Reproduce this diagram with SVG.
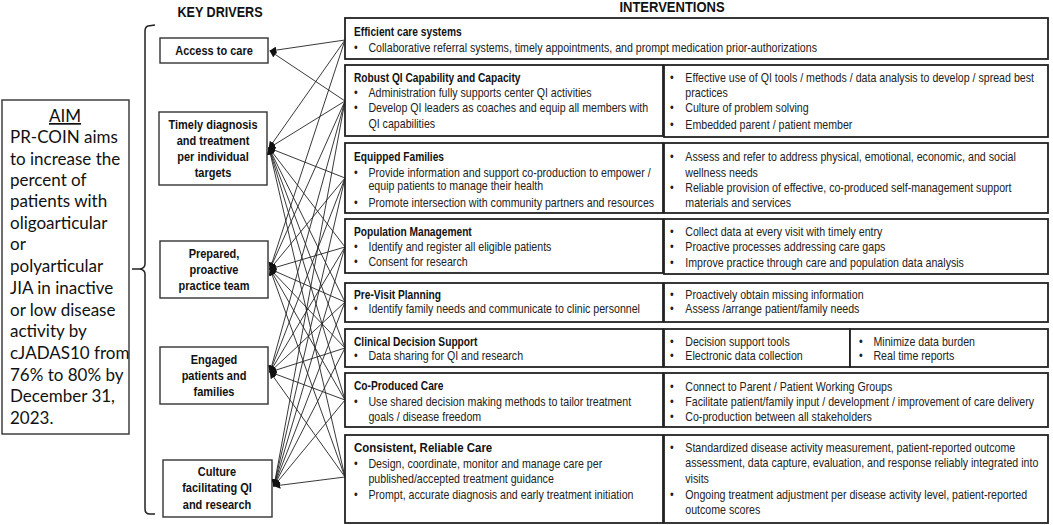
<svg xmlns="http://www.w3.org/2000/svg" width="1053" height="525" viewBox="0 0 1053 525">
<style>
.bg{fill:#fff}
.box{fill:#fff;stroke:#333;stroke-width:1.4}
.ibox{fill:#fff;stroke:#222;stroke-width:1.8}
.h{font-family:"Liberation Sans",Arial,sans-serif;font-weight:bold;font-size:14px;fill:#111;text-anchor:middle}
.d{font-family:"Liberation Sans",Arial,sans-serif;font-weight:bold;font-size:12.5px;fill:#111;text-anchor:middle}
.ti{font-family:"Liberation Sans",Arial,sans-serif;font-weight:bold;font-size:12px;fill:#111}
.t{font-family:"Liberation Sans",Arial,sans-serif;font-size:12.5px;fill:#222}
.aim{font-family:Lato,"Open Sans",sans-serif;font-size:17px;fill:#111}
.c line{stroke:#222;stroke-width:0.9}
</style>
<defs>
<marker id="ah" viewBox="0 0 10 10" refX="9" refY="5" markerWidth="7" markerHeight="7" markerUnits="userSpaceOnUse" orient="auto">
<path d="M0,0 L10,5 L0,10 z" fill="#111"/>
</marker>
</defs>
<rect class="bg" x="0" y="0" width="1053" height="525"/>

<g transform="translate(220,0) scale(0.9,1)"><text class="h" x="0" y="17">KEY DRIVERS</text></g>
<g transform="translate(672,0) scale(0.93,1)"><text class="h" x="0" y="12">INTERVENTIONS</text></g>

<g id="aim">
<rect class="box" x="2" y="100" width="127" height="334"/>
<text class="aim" x="65" y="122" text-anchor="middle" text-decoration="underline">AIM</text>
<text class="aim" x="10" y="143">PR-COIN aims</text>
<text class="aim" x="10" y="165">to increase the</text>
<text class="aim" x="10" y="186">percent of</text>
<text class="aim" x="10" y="207">patients with</text>
<text class="aim" x="10" y="229">oligoarticular</text>
<text class="aim" x="10" y="250">or</text>
<text class="aim" x="10" y="272">polyarticular</text>
<text class="aim" x="10" y="294">JIA in inactive</text>
<text class="aim" x="10" y="316">or low disease</text>
<text class="aim" x="10" y="337">activity by</text>
<text class="aim" x="10" y="359">cJADAS10 from</text>
<text class="aim" x="10" y="381">76% to 80% by</text>
<text class="aim" x="10" y="402">December 31,</text>
<text class="aim" x="10" y="424">2023.</text>
</g>

<g id="brace">
<path d="M155,25 L148,26 Q145,27 145,31 L145,264 Q145,268 140,269 L132,269 M140,269 Q145,270 145,274 L145,509 Q145,514 150,514 L155,514" fill="none" stroke="#222" stroke-width="1.5"/>
</g>

<g id="driver-access">
<rect class="box" x="160" y="38" width="108" height="25"/>
<g transform="translate(214,0) scale(0.88,1)"><text class="d" x="0" y="55">Access to care</text></g>
</g>
<g id="driver-timely">
<rect class="box" x="159" y="112" width="108" height="73"/>
<g transform="translate(213,0) scale(0.88,1)">
<text class="d" x="0" y="129">Timely diagnosis</text>
<text class="d" x="0" y="145">and treatment</text>
<text class="d" x="0" y="161">per individual</text>
<text class="d" x="0" y="177">targets</text>
</g>
</g>
<g id="driver-prepared">
<rect class="box" x="160" y="241" width="108" height="57"/>
<g transform="translate(214,0) scale(0.88,1)">
<text class="d" x="0" y="258">Prepared,</text>
<text class="d" x="0" y="274">proactive</text>
<text class="d" x="0" y="290">practice team</text>
</g>
</g>
<g id="driver-engaged">
<rect class="box" x="160" y="347" width="108" height="57"/>
<g transform="translate(214,0) scale(0.88,1)">
<text class="d" x="0" y="364">Engaged</text>
<text class="d" x="0" y="380">patients and</text>
<text class="d" x="0" y="396">families</text>
</g>
</g>
<g id="driver-culture">
<rect class="box" x="163" y="460" width="109" height="57"/>
<g transform="translate(217,0) scale(0.88,1)">
<text class="d" x="0" y="476">Culture</text>
<text class="d" x="0" y="492">facilitating QI</text>
<text class="d" x="0" y="509">and research</text>
</g>
</g>

<g class="c" id="connectors">
<line x1="345" y1="40" x2="270" y2="51" marker-end="url(#ah)"/>
<line x1="345" y1="101" x2="270" y2="51" marker-end="url(#ah)"/>
<line x1="345" y1="40" x2="269" y2="148" marker-end="url(#ah)"/>
<line x1="345" y1="101" x2="269" y2="148" marker-end="url(#ah)"/>
<line x1="345" y1="178" x2="269" y2="148" marker-end="url(#ah)"/>
<line x1="345" y1="247" x2="269" y2="148" marker-end="url(#ah)"/>
<line x1="345" y1="302" x2="269" y2="148" marker-end="url(#ah)"/>
<line x1="345" y1="348" x2="269" y2="148" marker-end="url(#ah)"/>
<line x1="345" y1="400" x2="269" y2="148" marker-end="url(#ah)"/>
<line x1="345" y1="477" x2="269" y2="148" marker-end="url(#ah)"/>
<line x1="345" y1="40" x2="270" y2="269" marker-end="url(#ah)"/>
<line x1="345" y1="101" x2="270" y2="269" marker-end="url(#ah)"/>
<line x1="345" y1="178" x2="270" y2="269" marker-end="url(#ah)"/>
<line x1="345" y1="247" x2="270" y2="269" marker-end="url(#ah)"/>
<line x1="345" y1="302" x2="270" y2="269" marker-end="url(#ah)"/>
<line x1="345" y1="348" x2="270" y2="269" marker-end="url(#ah)"/>
<line x1="345" y1="400" x2="270" y2="269" marker-end="url(#ah)"/>
<line x1="345" y1="477" x2="270" y2="269" marker-end="url(#ah)"/>
<line x1="345" y1="101" x2="270" y2="372" marker-end="url(#ah)"/>
<line x1="345" y1="178" x2="270" y2="372" marker-end="url(#ah)"/>
<line x1="345" y1="247" x2="270" y2="372" marker-end="url(#ah)"/>
<line x1="345" y1="302" x2="270" y2="372" marker-end="url(#ah)"/>
<line x1="345" y1="348" x2="270" y2="372" marker-end="url(#ah)"/>
<line x1="345" y1="400" x2="270" y2="372" marker-end="url(#ah)"/>
<line x1="345" y1="477" x2="270" y2="372" marker-end="url(#ah)"/>
<line x1="345" y1="101" x2="274" y2="486" marker-end="url(#ah)"/>
<line x1="345" y1="178" x2="274" y2="486" marker-end="url(#ah)"/>
<line x1="345" y1="247" x2="274" y2="486" marker-end="url(#ah)"/>
<line x1="345" y1="302" x2="274" y2="486" marker-end="url(#ah)"/>
<line x1="345" y1="348" x2="274" y2="486" marker-end="url(#ah)"/>
<line x1="345" y1="400" x2="274" y2="486" marker-end="url(#ah)"/>
<line x1="345" y1="477" x2="274" y2="486" marker-end="url(#ah)"/>
</g>

<g id="int-efficient">
<rect class="ibox" x="345" y="18" width="703" height="41"/>
<g transform="translate(354,0) scale(0.85,1)">
<text class="ti" x="0" y="36">Efficient care systems</text>
<text class="t" x="0" y="52">•</text><text class="t" x="17" y="52">Collaborative referral systems, timely appointments, and prompt medication prior-authorizations</text>
</g>
</g>

<g id="int-robust">
<rect class="ibox" x="345" y="65" width="318" height="71"/>
<rect class="ibox" x="664" y="65" width="384" height="72"/>
<g transform="translate(354,0) scale(0.85,1)">
<text class="ti" x="0" y="82">Robust QI Capability and Capacity</text>
<text class="t" x="0" y="97">•</text><text class="t" x="17" y="97">Administration fully supports center QI activities</text>
<text class="t" x="0" y="112">•</text><text class="t" x="17" y="112">Develop QI leaders as coaches and equip all members with</text>
<text class="t" x="17" y="128">QI capabilities</text>
</g>
<g transform="translate(670,0) scale(0.85,1)">
<text class="t" x="0" y="82">•</text><text class="t" x="18" y="82">Effective use of QI tools / methods / data analysis to develop / spread best</text>
<text class="t" x="18" y="97">practices</text>
<text class="t" x="0" y="112">•</text><text class="t" x="18" y="112">Culture of problem solving</text>
<text class="t" x="0" y="129">•</text><text class="t" x="18" y="129">Embedded parent / patient member</text>
</g>
</g>

<g id="int-equipped">
<rect class="ibox" x="345" y="143" width="318" height="70"/>
<rect class="ibox" x="664" y="143" width="384" height="70"/>
<g transform="translate(354,0) scale(0.85,1)">
<text class="ti" x="0" y="161">Equipped Families</text>
<text class="t" x="0" y="177">•</text><text class="t" x="17" y="177">Provide information and support co-production to empower /</text>
<text class="t" x="17" y="190">equip patients to manage their health</text>
<text class="t" x="0" y="207">•</text><text class="t" x="17" y="207">Promote intersection with community partners and resources</text>
</g>
<g transform="translate(670,0) scale(0.85,1)">
<text class="t" x="0" y="161">•</text><text class="t" x="18" y="161">Assess and refer to address physical, emotional, economic, and social</text>
<text class="t" x="18" y="177">wellness needs</text>
<text class="t" x="0" y="192">•</text><text class="t" x="18" y="192">Reliable provision of effective, co-produced self-management support</text>
<text class="t" x="18" y="207">materials and services</text>
</g>
</g>

<g id="int-population">
<rect class="ibox" x="345" y="219" width="318" height="54"/>
<rect class="ibox" x="664" y="219" width="384" height="55"/>
<g transform="translate(354,0) scale(0.85,1)">
<text class="ti" x="0" y="236">Population Management</text>
<text class="t" x="0" y="251">•</text><text class="t" x="17" y="251">Identify and register all eligible patients</text>
<text class="t" x="0" y="266">•</text><text class="t" x="17" y="266">Consent for research</text>
</g>
<g transform="translate(670,0) scale(0.85,1)">
<text class="t" x="0" y="236">•</text><text class="t" x="18" y="236">Collect data at every visit with timely entry</text>
<text class="t" x="0" y="251">•</text><text class="t" x="18" y="251">Proactive processes addressing care gaps</text>
<text class="t" x="0" y="267">•</text><text class="t" x="18" y="267">Improve practice through care and population data analysis</text>
</g>
</g>

<g id="int-previsit">
<rect class="ibox" x="345" y="283" width="318" height="39"/>
<rect class="ibox" x="664" y="283" width="384" height="39"/>
<g transform="translate(354,0) scale(0.85,1)">
<text class="ti" x="0" y="299">Pre-Visit Planning</text>
<text class="t" x="0" y="313">•</text><text class="t" x="17" y="313">Identify family needs and communicate to clinic personnel</text>
</g>
<g transform="translate(670,0) scale(0.85,1)">
<text class="t" x="0" y="299">•</text><text class="t" x="18" y="299">Proactively obtain missing information</text>
<text class="t" x="0" y="313">•</text><text class="t" x="18" y="313">Assess /arrange patient/family needs</text>
</g>
</g>

<g id="int-clinical">
<rect class="ibox" x="345" y="329" width="318" height="38"/>
<rect class="ibox" x="664" y="329" width="186" height="38"/>
<rect class="ibox" x="850" y="329" width="198" height="38"/>
<g transform="translate(354,0) scale(0.85,1)">
<text class="ti" x="0" y="346">Clinical Decision Support</text>
<text class="t" x="0" y="360">•</text><text class="t" x="17" y="360">Data sharing for QI and research</text>
</g>
<g transform="translate(670,0) scale(0.85,1)">
<text class="t" x="0" y="346">•</text><text class="t" x="18" y="346">Decision support tools</text>
<text class="t" x="0" y="360">•</text><text class="t" x="18" y="360">Electronic data collection</text>
</g>
<g transform="translate(859,0) scale(0.85,1)">
<text class="t" x="0" y="346">•</text><text class="t" x="17" y="346">Minimize data burden</text>
<text class="t" x="0" y="360">•</text><text class="t" x="17" y="360">Real time reports</text>
</g>
</g>

<g id="int-coproduced">
<rect class="ibox" x="345" y="373" width="318" height="54"/>
<rect class="ibox" x="664" y="373" width="384" height="54"/>
<g transform="translate(354,0) scale(0.85,1)">
<text class="ti" x="0" y="390">Co-Produced Care</text>
<text class="t" x="0" y="406">•</text><text class="t" x="17" y="406">Use shared decision making methods to tailor treatment</text>
<text class="t" x="17" y="421">goals / disease freedom</text>
</g>
<g transform="translate(670,0) scale(0.85,1)">
<text class="t" x="0" y="391">•</text><text class="t" x="18" y="391">Connect to Parent / Patient Working Groups</text>
<text class="t" x="0" y="406">•</text><text class="t" x="18" y="406">Facilitate patient/family input / development / improvement of care delivery</text>
<text class="t" x="0" y="421">•</text><text class="t" x="18" y="421">Co-production between all stakeholders</text>
</g>
</g>

<g id="int-consistent">
<rect class="ibox" x="345" y="435" width="318" height="88"/>
<rect class="ibox" x="664" y="435" width="384" height="88"/>
<g transform="translate(354,0) scale(0.85,1)">
<text class="ti" x="0" y="452" style="font-size:13.5px">Consistent, Reliable Care</text>
<text class="t" x="0" y="468">•</text><text class="t" x="17" y="468">Design, coordinate, monitor and manage care per</text>
<text class="t" x="17" y="483">published/accepted treatment guidance</text>
<text class="t" x="0" y="499">•</text><text class="t" x="17" y="499">Prompt, accurate diagnosis and early treatment initiation</text>
</g>
<g transform="translate(670,0) scale(0.85,1)">
<text class="t" x="0" y="452">•</text><text class="t" x="18" y="452">Standardized disease activity measurement, patient-reported outcome</text>
<text class="t" x="18" y="467">assessment, data capture, evaluation, and response reliably integrated into</text>
<text class="t" x="18" y="483">visits</text>
<text class="t" x="0" y="499">•</text><text class="t" x="18" y="499">Ongoing treatment adjustment per disease activity level, patient-reported</text>
<text class="t" x="18" y="514">outcome scores</text>
</g>
</g>
</svg>
